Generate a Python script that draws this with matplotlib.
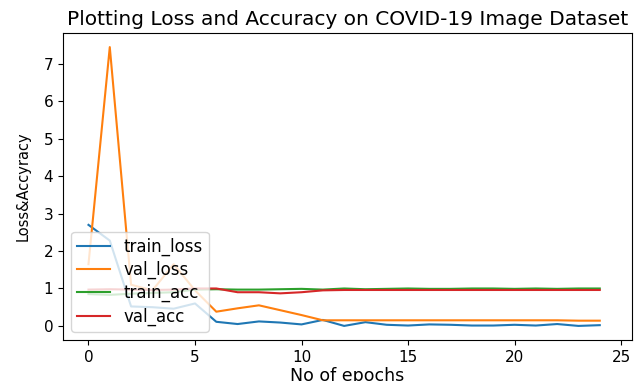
import numpy as np
import matplotlib
matplotlib.use("Agg")
import matplotlib.pyplot as plt

epochs = np.arange(25)

train_loss = [2.70, 2.28, 0.52, 0.50, 0.46, 0.60, 0.11, 0.05, 0.12, 0.09, 0.04,
              0.16, 0.00, 0.10, 0.03, 0.01, 0.04, 0.03, 0.01, 0.01, 0.03,
              0.01, 0.05, 0.00, 0.02]
val_loss = [1.65, 7.45, 1.10, 0.95, 1.65, 0.95, 0.38, 0.47, 0.55, 0.42, 0.29,
            0.15, 0.15, 0.15, 0.15, 0.15, 0.15, 0.15, 0.15, 0.15, 0.15,
            0.15, 0.15, 0.14, 0.14]
train_acc = [0.85, 0.83, 0.86, 0.88, 0.90, 0.97, 0.98, 0.97, 0.97, 0.98, 0.99,
             0.97, 1.00, 0.98, 0.99, 1.00, 0.99, 0.99, 1.00, 1.00, 0.99,
             1.00, 0.99, 1.00, 1.00]
val_acc = [0.97, 0.98, 0.97, 0.96, 0.97, 1.00, 1.00, 0.90, 0.90, 0.87, 0.90,
           0.95, 0.96, 0.96, 0.96, 0.96, 0.96, 0.96, 0.96, 0.96, 0.96,
           0.96, 0.96, 0.96, 0.96]

fig = plt.figure(figsize=(6.42, 3.81), dpi=100)
ax = fig.add_axes([0.098, 0.108, 0.886, 0.805])

ax.plot(epochs, train_loss, label="train_loss")
ax.plot(epochs, val_loss, label="val_loss")
ax.plot(epochs, train_acc, label="train_acc")
ax.plot(epochs, val_acc, label="val_acc")

ax.set_xlim(-1.2, 25.5)
ax.set_title("Plotting Loss and Accuracy on COVID-19 Image Dataset", fontsize=14.5)
ax.set_xlabel("No of epochs", fontsize=12.5, labelpad=2)
ax.set_ylabel("Loss&Accyracy", fontsize=10.5, labelpad=9)
ax.tick_params(labelsize=11)
ax.legend(loc="lower left", fontsize=12, labelspacing=0.3, borderpad=0.35)

fig.savefig("out.png", dpi=100)
